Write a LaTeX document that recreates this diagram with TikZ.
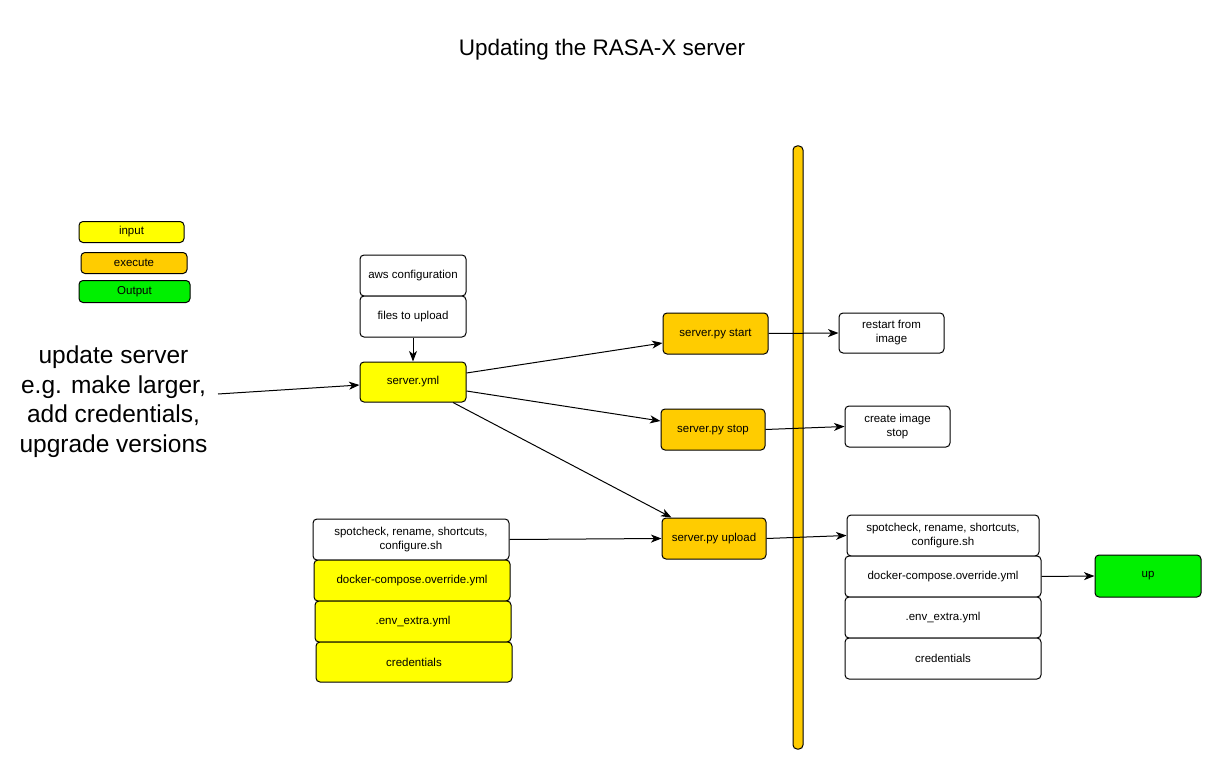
\documentclass[tikz,border=0pt]{standalone}
\usepackage{fontspec}
\setmainfont{Liberation Sans}
\usetikzlibrary{arrows.meta}
\definecolor{inyellow}{HTML}{FFFF00}
\definecolor{exorange}{HTML}{FFCC00}
\definecolor{outgreen}{HTML}{00F000}
\tikzset{
  box/.style={draw=black, line width=1pt, rounded corners=4pt, fill=white,
    align=center, inner sep=2pt, font=\fontsize{11.5}{14}\selectfont},
  inbox/.style={box, fill=inyellow},
  exbox/.style={box, fill=exorange},
  outbox/.style={box, fill=outgreen},
  conn/.style={draw=black, line width=1pt, -{Stealth[length=10.5pt,width=8pt,inset=3pt]}},
}
\begin{document}
\begin{tikzpicture}[x=1pt,y=-1pt]
\useasboundingbox (0,0) rectangle (1216,765);
% title
\node[font=\fontsize{22.5}{26}\selectfont] (title) at (602,50) {Updating the RASA-X server};
% legend
\node[inbox, minimum width=105pt, minimum height=21pt] (lin) at (131.5,232) {input};
\node[exbox, minimum width=106pt, minimum height=21pt] (lex) at (134,263) {execute};
\node[outbox, minimum width=111pt, minimum height=22pt] (lout) at (134.5,291.5) {Output};
% vertical bar
\node[draw=black, line width=1pt, fill=exorange, rounded corners=4pt, minimum width=10pt, minimum height=603pt, inner sep=0pt] (bar) at (798,447.5) {};
% update text
\node[align=center, font=\fontsize{24.5}{29.5}\selectfont] (upd) at (113.5,401.5) {update server\\e.g. make larger,\\add credentials,\\upgrade versions};
\coordinate (updout) at (218,394);
% central column
\node[box, minimum width=106pt, minimum height=41pt] (aws) at (413,275.5) {aws configuration};
\node[box, minimum width=106pt, minimum height=41pt] (files) at (413,316.5) {files to upload};
\node[inbox, minimum width=106pt, minimum height=40pt] (yml) at (413,382) {server.yml};
% execute boxes
\node[exbox, minimum width=105pt, minimum height=41pt] (start) at (715.5,333.5) {server.py start};
\node[exbox, minimum width=104pt, minimum height=41pt] (stop) at (713,429.5) {server.py stop};
\node[exbox, minimum width=104pt, minimum height=41pt] (upload) at (714,538.5) {server.py upload};
% results
\node[box, minimum width=105pt, minimum height=40pt] (restart) at (891.5,333) {restart from\\image};
\node[box, minimum width=105pt, minimum height=41pt] (create) at (897.5,426.5) {create image\\stop};
% left stack
\node[box, minimum width=196pt, minimum height=41pt] (lspot) at (411,539.5) {spotcheck, rename, shortcuts,\\configure.sh};
\node[inbox, minimum width=196pt, minimum height=41pt] (ldock) at (412,580.5) {docker-compose.override.yml};
\node[inbox, minimum width=196pt, minimum height=41pt] (lenv) at (413,621.5) {.env\_extra.yml};
\node[inbox, minimum width=196pt, minimum height=40pt] (lcred) at (414,662) {credentials};
% right stack
\node[box, minimum width=192pt, minimum height=41pt] (rspot) at (943,535.5) {spotcheck, rename, shortcuts,\\configure.sh};
\node[box, minimum width=196pt, minimum height=41pt] (rdock) at (943,576.5) {docker-compose.override.yml};
\node[box, minimum width=196pt, minimum height=41pt] (renv) at (943,617.5) {.env\_extra.yml};
\node[box, minimum width=196pt, minimum height=41pt] (rcred) at (943,658.5) {credentials};
\node[outbox, minimum width=106pt, minimum height=42pt] (up) at (1148,576) {up};
% connectors
\draw[conn] (updout) -- ([yshift=-3pt]yml.west);
\draw[conn] (files.south) -- (yml.north);
\draw[conn] ([yshift=9pt]yml.east) -- ([yshift=-9.5pt]start.west);
\draw[conn] ([yshift=-9pt]yml.east) -- ([yshift=8.5pt]stop.west);
\draw[conn] ([xshift=40pt]yml.south) -- ([xshift=10pt]upload.north west);
\draw[conn] (lspot.east) -- (upload.west);
\draw[conn] (start.east) -- (restart.west);
\draw[conn] (stop.east) -- (create.west);
\draw[conn] (upload.east) -- (rspot.west);
\draw[conn] (rdock.east) -- (up.west);
\end{tikzpicture}
\end{document}
